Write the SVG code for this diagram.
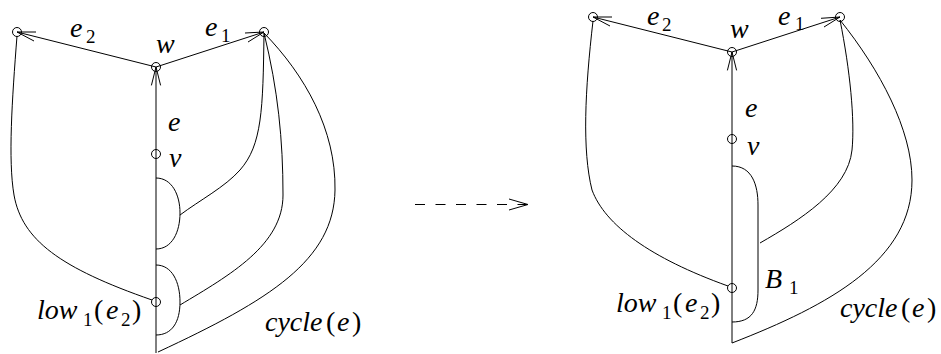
<svg xmlns="http://www.w3.org/2000/svg" width="941" height="354" viewBox="0 0 941 354">
<style>
.ln{fill:none;stroke:#000;stroke-width:1}
.nd{fill:none;stroke:#000;stroke-width:1}
.it{font-family:"Liberation Serif","Times New Roman",serif;font-style:italic;font-size:28px;fill:#000}
.rm{font-family:"Liberation Serif","Times New Roman",serif;font-size:28px;fill:#000}
.sb{font-family:"Liberation Serif","Times New Roman",serif;font-size:19px;fill:#000}
.da{fill:none;stroke:#000;stroke-width:1.1;stroke-dasharray:10 10.5}
</style>
<rect width="941" height="354" fill="#fff"/>
<g id="connectors">
  <path class="ln" d="M156,67 L17,32 M156,67 L264,32 M156,67 L156,353"/>
  <path class="ln" d="M36,32 L17,32 L34,41"/>
  <path class="ln" d="M245,33 L264,32 L248,42"/>
  <path class="ln" d="M151.4,85.4 L156,67 L160.6,85.4"/>
  <path class="ln" d="M17,36 C 12,100 8,160 14,195 C 22,240 60,268 152,300"/>
  <path class="ln" d="M264,33 C 263,110 262,145 240,170 C 225,187 200,200 180,215"/>
  <path class="ln" d="M264,33 C 278,90 283,140 283,195 C 283,245 230,275 180,305"/>
  <path class="ln" d="M264,33 C 305,75 336,130 335,190 C 334,260 270,300 158,352"/>
  <path class="ln" d="M156,178 C 172,178 180,195 180,213 C 180,232 172,249 156,249"/>
  <path class="ln" d="M156,265 C 172,265 180,282 180,302 C 180,322 172,335 156,335"/>
  <path class="da" d="M415,204.5 L527,204.5"/>
  <path class="ln" d="M509,199 L528,204.5 L509,210"/>
  <path class="ln" d="M732,52 L593,17 M732,52 L840,17 M732,52 L732,343"/>
  <path class="ln" d="M612,17 L593,17 L610,26"/>
  <path class="ln" d="M821,18.3 L840,17 L824,27"/>
  <path class="ln" d="M727.4,70.4 L732,52 L736.6,70.4"/>
  <path class="ln" d="M593,21 C 585,90 582,150 592,190 C 605,225 650,258 728,286"/>
  <path class="ln" d="M840,20 C 850,70 855,120 852,150 C 848,190 800,220 760,243"/>
  <path class="ln" d="M840,20 C 880,70 912,130 912,180 C 912,260 830,305 732,343"/>
  <path class="ln" d="M732,166 C 752,166 758,185 758,205 L 758,290 C 758,310 752,322 732,322"/>
</g>
<g id="left-diagram">
  <g id="L-u2"><circle class="nd" cx="17" cy="32" r="4.5"/></g>
  <g id="L-w"><circle class="nd" cx="156" cy="67" r="4.5"/><text class="it" x="156" y="53">w</text></g>
  <g id="L-u1"><circle class="nd" cx="264" cy="32" r="4.5"/></g>
  <g id="L-v"><circle class="nd" cx="156" cy="154" r="4.5"/><text class="it" x="169" y="167">v</text></g>
  <g id="L-low"><circle class="nd" cx="156" cy="302" r="4.5"/>
    <text class="it" x="37" y="319">low</text><text class="sb" x="83" y="326">1</text><text class="rm" x="94" y="319">(</text><text class="it" x="106" y="319">e</text><text class="sb" x="121" y="326">2</text><text class="rm" x="132" y="319">)</text>
  </g>
  <g id="L-labels">
    <text class="it" x="70" y="37">e</text><text class="sb" x="86" y="43">2</text>
    <text class="it" x="205" y="36">e</text><text class="sb" x="221" y="42">1</text>
    <text class="it" x="168" y="131">e</text>
    <text class="it" x="265" y="331">cycle</text><text class="rm" x="326" y="331">(</text><text class="it" x="337" y="331">e</text><text class="rm" x="352" y="331">)</text>
  </g>
</g>
<g id="right-diagram">
  <g id="R-u2"><circle class="nd" cx="593" cy="17" r="4.5"/></g>
  <g id="R-w"><circle class="nd" cx="732" cy="52" r="4.5"/><text class="it" x="730" y="38">w</text></g>
  <g id="R-u1"><circle class="nd" cx="840" cy="17" r="4.5"/></g>
  <g id="R-v"><circle class="nd" cx="732" cy="139" r="4.5"/><text class="it" x="747" y="155">v</text></g>
  <g id="R-low"><circle class="nd" cx="732" cy="288" r="4.5"/>
    <text class="it" x="616" y="312">low</text><text class="sb" x="662" y="319">1</text><text class="rm" x="673" y="312">(</text><text class="it" x="685" y="312">e</text><text class="sb" x="700" y="319">2</text><text class="rm" x="711" y="312">)</text>
  </g>
  <g id="R-B1"><text class="it" x="765" y="288">B</text><text class="sb" x="789" y="294">1</text></g>
  <g id="R-labels">
    <text class="it" x="647" y="25">e</text><text class="sb" x="662" y="31">2</text>
    <text class="it" x="778" y="25">e</text><text class="sb" x="795" y="30">1</text>
    <text class="it" x="745" y="117">e</text>
    <text class="it" x="840" y="317">cycle</text><text class="rm" x="901" y="317">(</text><text class="it" x="912" y="317">e</text><text class="rm" x="927" y="317">)</text>
  </g>
</g>
</svg>
